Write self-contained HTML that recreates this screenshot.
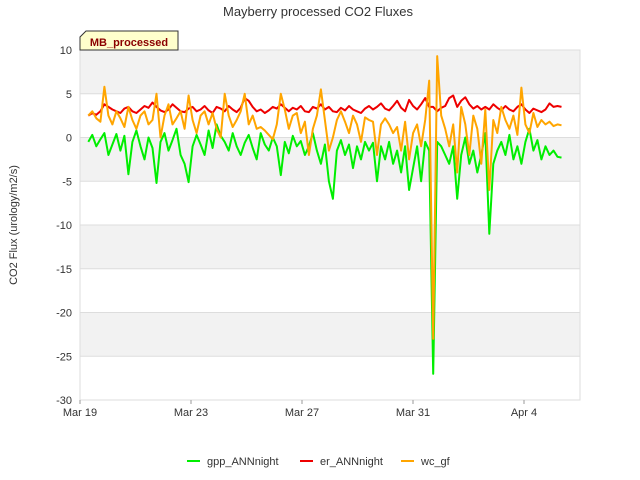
<!DOCTYPE html>
<html><head><meta charset="utf-8"><style>
body{margin:0;width:640px;height:480px;background:#fff;font-family:"Liberation Sans",sans-serif;overflow:hidden}
</style></head><body>
<svg id="chart" width="640" height="480" style="position:absolute;left:0;top:0">
<text x="318" y="16" text-anchor="middle" font-size="13" fill="#333">Mayberry processed CO2 Fluxes</text>
<g id="bands"></g>
<g id="yticks"></g>
<g id="xticks"></g>
<g id="series"></g>
<text transform="translate(17,225) rotate(-90)" text-anchor="middle" font-size="11" fill="#333">CO2 Flux (urology/m2/s)</text>
<g>
<path d="M86,31 L178,31 L178,50 L80,50 L80,37 Z" fill="#ffffcc" stroke="#333" stroke-width="1"/>
<text x="129" y="46" text-anchor="middle" font-size="11" font-weight="bold" fill="#8b0000">MB_processed</text>
</g>
<g id="legend"></g>
</svg>
<script>
const yTicks=[10,5,0,-5,-10,-15,-20,-25,-30];
const xTickLabels=["Mar 19","Mar 23","Mar 27","Mar 31","Apr 4"];
const xTickDays=[0,4,8,12,16];
const seriesNames=["gpp_ANNnight","er_ANNnight","wc_gf"];
const t0=0.3, step=0.1445;
const gpp=[-0.5,0.3,-1,-0.2,0.5,-2,-0.8,0.4,-1.5,0.2,
-4.2,-0.5,0.8,-1,-2.5,0,-1.2,-5.2,-0.5,0.5,
-1.5,-0.3,1,-2,-3,-5.1,-1,0.3,-0.8,-2,
0.8,-1.2,1.5,0.2,-0.5,-1.5,0.5,-1,-2,-0.6,
0.3,-1.2,-2.5,0.5,-0.8,-1.5,0,-1,-4.3,-0.5,
-1.8,0.2,-1,-0.4,-2,-1,0.5,-1.5,-3,-0.8,
-5,-7,-1.5,-0.3,-2,-0.8,-3.5,-1,-2.5,-0.5,
-1.5,-0.6,-5,-1,-2.5,-0.5,-3,-1.5,-4,-1,
-6,-3.5,-1,-5,-0.5,-1.5,-27,-0.5,-1,-2,
-3,-1,-7,-2,0,-3,-1.5,-4,-2,0.5,
-11,-3,-1.5,-0.5,-2,0.3,-2.5,-1,-3,-0.5,
1,-1.5,-0.3,-2.5,-1,-2,-1.5,-2.2,-2.3];
const er=[2.5,2.8,2.6,3,3.8,3.5,3.2,3,2.8,3.3,
3.5,3,2.8,3.2,3.6,3.4,4,3.5,3.1,2.9,
3.2,3.8,3.4,3,2.9,3.3,3.5,3,3.2,3.6,
3.1,2.8,3.5,3.3,3,3.6,3.2,2.9,3.4,4.5,
4.2,3.5,3,3.2,2.8,3.1,3.5,3.3,3.8,3.4,
3,3.4,3.2,3.6,3,2.9,3.5,3.3,3.8,3.2,
3.5,3,2.9,3.4,3.1,3.6,3.2,3,2.8,3.3,
3.6,3.2,3.5,3.9,3.3,3.1,3.6,4.2,3.4,3,
4.3,3.6,3.2,3.8,4.5,3.5,3.5,3,3.4,3.6,
4.5,4.8,3.5,4.2,4.6,3.8,3.3,3.6,3.2,3.5,
3.2,3.8,3.4,3.1,3.6,3.2,3,3.5,3.8,3.2,
2.8,3.3,3.1,2.9,3.2,3.9,3.5,3.6,3.5];
const wc=[2.5,3,2.2,1.8,5.8,2.5,1.5,3,2.2,1.2,
3.5,2,1,2.5,3,1.5,2,5,0,2.5,
3.8,1.5,2.2,3,1,4.8,2,0.5,2.5,3,
1.5,2.8,1,0,5,2.5,1.2,2,3,5,
1.5,2.5,1,1.2,0.8,0.3,-0.2,1.5,5,3.2,
1,2.5,2.8,0.5,1.8,-2,1,2.5,5.5,2,
-1.5,0,2,3,1.8,0.5,2.5,1.5,-0.5,2.3,
2,1.8,-2,1.5,2.2,1.5,0.5,1.2,-1.5,1.8,
-2.5,0.5,1.5,-1,2,6.5,-23,9.3,2.5,1,
-1,1.5,-4,3.5,1.5,-2,2.5,1,-3,3.2,
-6,2,0.5,3.5,2,1,2.5,0.3,5.7,1.5,
0.5,2.8,1.2,2,1.5,1.8,1.3,1.5,1.4];
const X0=80,X1=580,Y0=50,Y1=400;
function xs(day){return 80+day*27.75;}
function ys(v){return Y0+(10-v)*(Y1-Y0)/40;}
const NS="http://www.w3.org/2000/svg";
function mk(tag,attrs,parent){const e=document.createElementNS(NS,tag);for(const k in attrs)e.setAttribute(k,attrs[k]);parent.appendChild(e);return e;}
const bands=document.getElementById('bands');
for(let i=0;i<yTicks.length-1;i++){
  const r=mk('rect',{x:X0,y:ys(yTicks[i]),width:X1-X0,height:ys(yTicks[i+1])-ys(yTicks[i]),fill:i%2===0?'#f2f2f2':'#ffffff'},bands);
  
  
}
const yt=document.getElementById('yticks');
yTicks.forEach(v=>{
  const l=mk('line',{x1:X0,x2:X1,y1:ys(v),y2:ys(v),stroke:'#dddddd','stroke-width':1},yt);
  
  
  const t=mk('text',{x:72,y:ys(v)+4,'text-anchor':'end','font-size':11,fill:'#333'},yt);
  t.textContent=v;
  
  
});
const fr=mk('rect',{x:X0,y:Y0,width:X1-X0,height:Y1-Y0,fill:'none',stroke:'#dddddd'},yt);


const xt=document.getElementById('xticks');
xTickDays.forEach((d,i)=>{
  const l=mk('line',{x1:xs(d),x2:xs(d),y1:Y1,y2:Y1+4,stroke:'#999'},xt);
  
  
  const t=mk('text',{x:xs(d),y:416,'text-anchor':'middle','font-size':11,fill:'#333'},xt);
  t.textContent=xTickLabels[i];
  
  
});
const colors=['#00ee00','#ee0000','#ffa500'];
const data=[gpp,er,wc];
const sg=document.getElementById('series');
data.forEach((arr,si)=>{
  const pts=arr.map((v,i)=>xs(t0+i*step).toFixed(1)+','+ys(v).toFixed(1)).join(' ');
  const p=mk('polyline',{points:pts,fill:'none',stroke:colors[si],'stroke-width':2,'stroke-linejoin':'round'},sg);
  
  
});
const lg=document.getElementById('legend');
const lx=[187,300,401];
seriesNames.forEach((n,i)=>{
  const g=mk('g',{},lg);
  
  
  mk('line',{x1:lx[i],x2:lx[i]+13,y1:461,y2:461,stroke:colors[i],'stroke-width':2},g);
  const t=mk('text',{x:lx[i]+20,y:465,'font-size':11,fill:'#333'},g);
  t.textContent=n;
});
</script>
</body></html>
